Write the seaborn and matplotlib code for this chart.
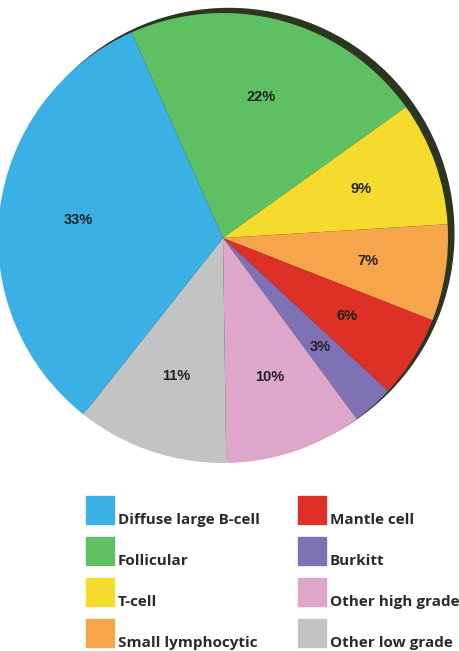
import matplotlib
matplotlib.use('Agg')
import matplotlib.pyplot as plt
import seaborn as sns
from matplotlib.patches import Circle, Rectangle

sns.set_style('white')
plt.rcParams['font.family'] = ['Open Sans', 'DejaVu Sans']

# Lymphoma subtypes, clockwise from the top
labels = ['Follicular', 'T-cell', 'Small lymphocytic', 'Mantle cell', 'Burkitt',
          'Other high grade', 'Other low grade', 'Diffuse large B-cell']
shares = [22, 9, 7, 6, 3, 10, 11, 33]
colors = ['#5ebf63', '#f5db2e', '#f6a54b', '#dd3127', '#7e72b5',
          '#dea6ca', '#c2c3c5', '#3ab0e4']

# legend order (two columns)
legend_order = ['Diffuse large B-cell', 'Follicular', 'T-cell', 'Small lymphocytic',
                'Mantle cell', 'Burkitt', 'Other high grade', 'Other low grade']

total = sum(shares)

fig = plt.figure(figsize=(4.6, 6.51), dpi=100)

# pie: centre ~ (223, 238) px, radius ~ 225 px, limits +-1.05
W = 1.05
r_px = 225
ax = fig.add_axes([(223 - r_px * W) / 460, (651 - 238 - r_px * W) / 651,
                   2 * r_px * W / 460, 2 * r_px * W / 651])
ax.add_patch(Circle((0.026, 0.02), 1.0, color='#2b3520', zorder=0, clip_on=False))
wedges, texts, autotexts = ax.pie(
    shares, colors=colors, startangle=114, counterclock=False,
    autopct=lambda p: f'{round(p * total / 100)}%', pctdistance=0.65,
    wedgeprops=dict(linewidth=0, zorder=1),
    textprops=dict(fontsize=10.5, fontweight='bold', color='#222222',
                   family=['Liberation Sans', 'DejaVu Sans']))
ax.set_xlim(-W, W)
ax.set_ylim(-W, W)
ax.set_aspect('equal')
ax.axis('off')

# legend drawn in pixel-like coordinates
lax = fig.add_axes([0, 0, 1, 161 / 651])
lax.set_xlim(0, 460)
lax.set_ylim(161, 0)
lax.axis('off')
col_x = [86, 298]
row_y = [6, 47, 88, 129]
color_of = dict(zip(labels, colors))
for i, name in enumerate(legend_order):
    x = col_x[i // 4]
    y = row_y[i % 4]
    lax.add_patch(Rectangle((x, y), 28, 28, color=color_of[name]))
    lax.text(x + 32, y + 28, name, fontsize=11, fontweight='bold',
             color='#2a2a2a', va='baseline', ha='left')

fig.savefig('out.png', dpi=100)
